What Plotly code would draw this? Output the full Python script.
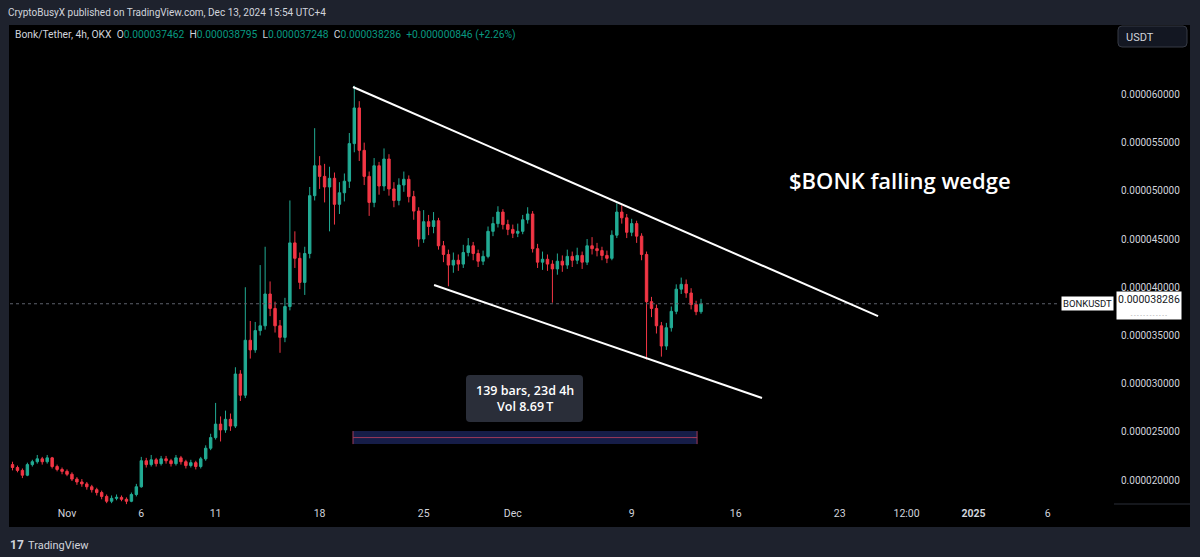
import pandas as pd
import plotly.graph_objects as go

# ---------------- data (prices in millionths of USDT) ----------------
times = pd.date_range("2024-10-28 08:00", periods=140, freq="8h")

opens = [21.6, 21.3, 21.0, 20.5, 21.6, 21.9, 22.2, 21.9, 22.3, 21.4,
         21.1, 20.9, 20.6, 20.1, 19.8, 19.6, 19.3, 19.0, 18.7, 18.3,
         17.8, 18.1, 18.2, 18.0, 17.8, 18.5, 19.3, 22.0, 21.6, 22.1,
         21.7, 22.2, 22.0, 21.7, 22.3, 21.9, 21.5, 21.8, 21.4, 22.2,
         23.3, 24.4, 25.8, 25.2, 26.3, 25.6, 31.0, 28.8, 34.5, 33.5,
         35.5, 36.0, 39.3, 37.8, 36.0, 34.8, 38.0, 44.6, 43.0, 40.5,
         43.5, 49.5, 52.6, 51.5, 50.4, 51.3, 48.6, 49.8, 51.0, 54.9,
         58.6, 54.2, 51.5, 48.8, 52.6, 50.5, 53.3, 50.2, 49.0, 50.6,
         51.2, 49.4, 47.9, 45.0, 46.8, 46.3, 46.9, 44.3, 43.4, 42.3,
         42.8, 42.4, 43.6, 44.3, 43.5, 42.7, 43.2, 45.8, 46.6, 47.8,
         46.5, 46.0, 45.6, 45.8, 47.0, 47.6, 44.0, 42.6, 42.9, 42.4,
         41.9, 42.7, 42.3, 43.2, 42.8, 43.3, 42.6, 44.3, 44.0, 43.8,
         43.3, 43.0, 45.4, 47.8, 47.2, 45.7, 46.6, 45.3, 43.4, 38.5,
         37.8, 36.0, 33.9, 35.8, 37.5, 39.8, 40.3, 39.4, 38.2, 37.462]

highs = [21.9, 21.5, 21.2, 21.8, 22.1, 22.6, 22.4, 22.6, 22.4, 21.6,
         21.3, 21.1, 20.8, 20.3, 20.1, 19.8, 19.5, 19.2, 18.9, 18.5,
         18.4, 18.5, 18.4, 18.2, 18.7, 19.6, 22.4, 22.3, 22.6, 22.3,
         22.5, 22.5, 22.2, 22.6, 22.5, 22.1, 22.1, 22.0, 22.4, 23.6,
         24.8, 28.0, 26.6, 27.2, 26.9, 31.7, 31.4, 40.0, 36.5, 36.4,
         42.3, 44.2, 40.6, 38.5, 36.6, 38.9, 49.0, 45.8, 43.6, 44.2,
         50.4, 56.5, 53.6, 52.8, 52.5, 51.9, 50.9, 51.8, 56.0, 60.9,
         59.3, 55.0, 52.0, 53.4, 53.0, 54.4, 53.8, 50.9, 51.3, 52.0,
         51.6, 50.0, 48.3, 48.0, 47.5, 47.8, 47.2, 44.8, 43.9, 43.6,
         43.4, 44.4, 45.1, 44.7, 43.9, 43.8, 46.3, 47.3, 48.4, 48.1,
         47.0, 46.5, 46.6, 47.5, 48.3, 47.9, 44.5, 43.7, 43.4, 42.8,
         43.5, 43.3, 43.9, 43.7, 44.1, 43.7, 45.0, 45.2, 44.6, 44.2,
         43.8, 45.9, 48.7, 48.5, 47.6, 47.1, 46.9, 45.6, 43.7, 39.0,
         38.2, 36.4, 36.3, 38.0, 40.3, 41.0, 40.8, 39.9, 38.6, 38.795]

lows = [21.0, 20.8, 20.2, 20.4, 21.4, 21.7, 21.6, 21.7, 21.2, 20.9,
        20.6, 20.4, 19.9, 19.5, 19.3, 19.0, 18.7, 18.4, 18.0, 17.6,
        17.6, 17.9, 17.8, 17.5, 17.7, 18.3, 19.2, 21.3, 21.4, 21.4,
        21.5, 21.7, 21.4, 21.5, 21.6, 21.2, 21.3, 21.1, 21.2, 22.0,
        23.1, 24.2, 24.0, 24.9, 25.1, 25.4, 28.2, 28.5, 32.6, 33.2,
        35.0, 35.6, 37.0, 35.3, 33.2, 34.3, 37.6, 42.0, 39.8, 39.2,
        43.0, 49.0, 50.2, 48.8, 45.8, 46.5, 47.6, 48.9, 50.3, 54.0,
        53.1, 50.6, 47.4, 48.3, 49.6, 50.0, 49.5, 48.3, 48.5, 49.9,
        48.8, 47.0, 44.2, 44.6, 45.4, 45.6, 43.9, 42.6, 40.1, 41.5,
        41.7, 42.0, 43.2, 42.8, 42.1, 42.3, 43.0, 45.3, 46.2, 46.0,
        45.4, 45.1, 45.2, 45.5, 46.6, 43.6, 42.0, 41.8, 41.7, 38.4,
        41.3, 41.6, 41.9, 42.1, 42.4, 41.9, 42.3, 43.4, 43.2, 42.8,
        42.5, 42.8, 45.1, 46.6, 45.1, 45.3, 44.6, 42.8, 32.5, 36.9,
        35.2, 32.8, 33.5, 35.4, 37.2, 39.3, 38.9, 37.7, 37.1, 37.248]

closes = [21.3, 21.0, 20.5, 21.6, 21.9, 22.2, 21.9, 22.3, 21.4, 21.1,
          20.9, 20.6, 20.1, 19.8, 19.6, 19.3, 19.0, 18.7, 18.3, 17.8,
          18.1, 18.2, 18.0, 17.8, 18.5, 19.3, 22.0, 21.6, 22.1, 21.7,
          22.2, 22.0, 21.7, 22.3, 21.9, 21.5, 21.8, 21.4, 22.2, 23.3,
          24.4, 25.8, 25.2, 26.3, 25.6, 31.0, 28.8, 34.5, 33.5, 35.5,
          36.0, 39.3, 37.8, 36.0, 34.8, 38.0, 44.6, 43.0, 40.5, 43.5,
          49.5, 52.6, 51.5, 50.4, 51.3, 48.6, 49.8, 51.0, 54.9, 58.6,
          54.2, 51.5, 48.8, 52.6, 50.5, 53.3, 50.2, 49.0, 50.6, 51.2,
          49.4, 47.9, 45.0, 46.8, 46.3, 46.9, 44.3, 43.4, 42.3, 42.8,
          42.4, 43.6, 44.3, 43.5, 42.7, 43.2, 45.8, 46.6, 47.8, 46.5,
          46.0, 45.6, 45.8, 47.0, 47.6, 44.0, 42.6, 42.9, 42.4, 41.9,
          42.7, 42.3, 43.2, 42.8, 43.3, 42.6, 44.3, 44.0, 43.8, 43.3,
          43.0, 45.4, 47.8, 47.2, 45.7, 46.6, 45.3, 43.4, 38.5, 37.8,
          36.0, 33.9, 35.8, 37.5, 39.8, 40.3, 39.4, 38.2, 37.462, 38.286]

last_price = 38.286

# price axis ticks
y_tickvals = [20, 25, 30, 35, 40, 45, 50, 55, 60]
y_ticktext = ["0.000020000", "0.000025000", "0.000030000", "0.000035000",
              "0.000040000", "0.000045000", "0.000050000", "0.000055000",
              "0.000060000"]

# time axis ticks
x_tickvals = ["2024-11-01", "2024-11-06", "2024-11-11", "2024-11-18",
              "2024-11-25", "2024-12-01", "2024-12-09", "2024-12-16",
              "2024-12-23", "2024-12-27 12:00", "2025-01-01", "2025-01-06"]
x_ticktext = ["Nov", "6", "11", "18", "25", "Dec", "9", "16", "23",
              "12:00", "<b>2025</b>", "6"]

# drawings (falling wedge lines + date range)
upper_line = [("2024-11-20 05:54", 60.77), ("2024-12-25 13:54", 37.01)]
lower_line = [("2024-11-25 16:48", 40.23), ("2024-12-17 18:29", 28.51)]
range_x = ["2024-11-20 05:54", "2024-12-13 09:36"]
range_y = [23.73, 25.08]

# ---------------- geometry helpers (pixel -> paper) ----------------
W, H = 1200, 557
ML, MR, MT, MB = 10, 90, 26, 52
PW = W - ML - MR
PH = H - MT - MB


def px(x):
    return (x - ML) / PW


def py(y):
    return (H - MB - y) / PH


def rrect(x0, y0, x1, y1, r=4):
    rx, ry = r / PW, r / PH
    a, b, c, d = px(x0), py(y1), px(x1), py(y0)  # left, bottom, right, top
    return (f"M {a+rx},{b} L {c-rx},{b} Q {c},{b} {c},{b+ry} "
            f"L {c},{d-ry} Q {c},{d} {c-rx},{d} L {a+rx},{d} "
            f"Q {a},{d} {a},{d-ry} L {a},{b+ry} Q {a},{b} {a+rx},{b} Z")


GREEN = "#22ab94"
RED = "#f23645"
TXT = "#d1d4dc"
FONT = "Roboto"

fig = go.Figure()
fig.add_trace(go.Candlestick(
    x=times, open=opens, high=highs, low=lows, close=closes,
    increasing=dict(line=dict(color=GREEN, width=1), fillcolor=GREEN),
    decreasing=dict(line=dict(color=RED, width=1), fillcolor=RED),
    whiskerwidth=0, hoverinfo="skip", showlegend=False,
))

shapes = []
# black chart panel
shapes.append(dict(type="rect", xref="paper", yref="paper",
                   x0=px(9), x1=px(1190), y0=py(527), y1=py(25),
                   fillcolor="#000000", line=dict(width=0), layer="below"))
# time-axis border under price scale
shapes.append(dict(type="line", xref="paper", yref="paper",
                   x0=px(1114), x1=px(1190), y0=py(504), y1=py(504),
                   line=dict(color="#2a2e39", width=1)))
# USDT button
shapes.append(dict(type="path", xref="paper", yref="paper",
                   path=rrect(1118, 26, 1187, 47, 4),
                   fillcolor="#131722", line=dict(color="#363a45", width=1)))
# current price dotted line
shapes.append(dict(type="line", xref="paper", yref="y",
                   x0=0, x1=px(1060), y0=last_price, y1=last_price,
                   line=dict(color="#5d606b", width=1, dash="dot")))
# wedge lines
for ln in (upper_line, lower_line):
    shapes.append(dict(type="line", xref="x", yref="y",
                       x0=ln[0][0], y0=ln[0][1], x1=ln[1][0], y1=ln[1][1],
                       line=dict(color="#ffffff", width=2)))
# date range bar
shapes.append(dict(type="rect", xref="x", yref="y",
                   x0=range_x[0], x1=range_x[1], y0=range_y[0], y1=range_y[1],
                   fillcolor="#161d48", line=dict(width=0)))
mid = (range_y[0] + range_y[1]) / 2
shapes.append(dict(type="line", xref="x", yref="y",
                   x0=range_x[0], x1=range_x[1], y0=mid, y1=mid,
                   line=dict(color="#9c3a5a", width=1)))
for xx in range_x:
    shapes.append(dict(type="line", xref="x", yref="y",
                       x0=xx, x1=xx, y0=range_y[0], y1=range_y[1],
                       line=dict(color="#9c3a5a", width=1)))
# measurement tooltip box
shapes.append(dict(type="path", xref="paper", yref="paper",
                   path=rrect(466, 375, 583, 422, 4),
                   fillcolor="#2a2e39", line=dict(width=0)))

ann = []
ann.append(dict(xref="paper", yref="paper", x=px(6), y=py(12),
                xanchor="left", yanchor="middle", showarrow=False,
                text="CryptoBusyX published on TradingView.com, Dec 13, 2024 15:54 UTC+4",
                font=dict(family=FONT, size=10, color=TXT)))
g = "#089981"
hdr = ("Bonk/Tether, 4h, OKX  "
       f"O<span style='color:{g}'>0.000037462</span>  "
       f"H<span style='color:{g}'>0.000038795</span>  "
       f"L<span style='color:{g}'>0.000037248</span>  "
       f"C<span style='color:{g}'>0.000038286</span>  "
       f"<span style='color:{g}'>+0.000000846 (+2.26%)</span>")
ann.append(dict(xref="paper", yref="paper", x=px(13), y=py(35),
                xanchor="left", yanchor="middle", showarrow=False, text=hdr,
                font=dict(family=FONT, size=10.3, color=TXT)))
ann.append(dict(xref="paper", yref="paper", x=px(1124), y=py(37),
                xanchor="left", yanchor="middle", showarrow=False, text="USDT",
                font=dict(family=FONT, size=11, color=TXT)))
ann.append(dict(xref="paper", yref="paper", x=px(900), y=py(180),
                xanchor="center", yanchor="middle", showarrow=False,
                text="$BONK falling wedge",
                font=dict(family="Open Sans", size=22, color="#ffffff", weight=600)))
ann.append(dict(xref="paper", yref="paper", x=px(524.5), y=py(398.5),
                xanchor="center", yanchor="middle", showarrow=False,
                text="139 bars, 23d 4h<br>Vol 8.69\u2009T",
                font=dict(family="Open Sans", size=12.5, color="#ffffff", weight=600)))
ann.append(dict(xref="paper", yref="y", x=px(1087), y=last_price,
                xanchor="center", yanchor="middle", showarrow=False,
                text="BONKUSDT", bgcolor="#ffffff", borderpad=1,
                font=dict(family=FONT, size=9.5, color="#131722")))
ann.append(dict(xref="paper", yref="y", x=px(1149), y=last_price, yshift=-2,
                xanchor="center", yanchor="middle", showarrow=False,
                text="0.000038286<br><span style='font-size:6px;color:#888'>- - - - - - - - - - - -</span>",
                bgcolor="#ffffff", borderpad=1,
                font=dict(family=FONT, size=10.5, color="#131722")))
ann.append(dict(xref="paper", yref="paper", x=px(8), y=py(545),
                xanchor="left", yanchor="middle", showarrow=False,
                text="<b>17</b>",
                font=dict(family=FONT, size=12, color=TXT)))
ann.append(dict(xref="paper", yref="paper", x=px(26), y=py(545),
                xanchor="left", yanchor="middle", showarrow=False,
                text="TradingView",
                font=dict(family=FONT, size=11, color=TXT)))
# arrow head at end of date range
ann.append(dict(xref="x", yref="y", x=range_x[1], y=mid, ax=-6, ay=0,
                showarrow=True, arrowhead=0, arrowwidth=1, arrowcolor="#9c3a5a",
                text=""))

fig.update_layout(
    width=W, height=H,
    margin=dict(l=ML, r=MR, t=MT, b=MB),
    paper_bgcolor="#1e222d", plot_bgcolor="#000000",
    shapes=shapes, annotations=ann,
    xaxis=dict(range=["2024-10-28 03:56", "2025-01-10 04:31"],
               tickvals=x_tickvals, ticktext=x_ticktext, showgrid=False,
               zeroline=False, showline=False, ticks="",
               tickfont=dict(family=FONT, size=10.5, color=TXT),
               rangeslider=dict(visible=False), fixedrange=True),
    yaxis=dict(range=[17.41, 67.10], side="right", tickvals=y_tickvals,
               ticktext=y_ticktext, showgrid=False, zeroline=False,
               showline=False, ticks="", ticklabelstandoff=10,
               tickfont=dict(family=FONT, size=10, color=TXT), fixedrange=True),
    hovermode=False,
)

fig.write_html(
    "out.html",
    config={"displayModeBar": False},
    post_script="document.body.style.margin='0';document.body.style.background='#1e222d';",
)
